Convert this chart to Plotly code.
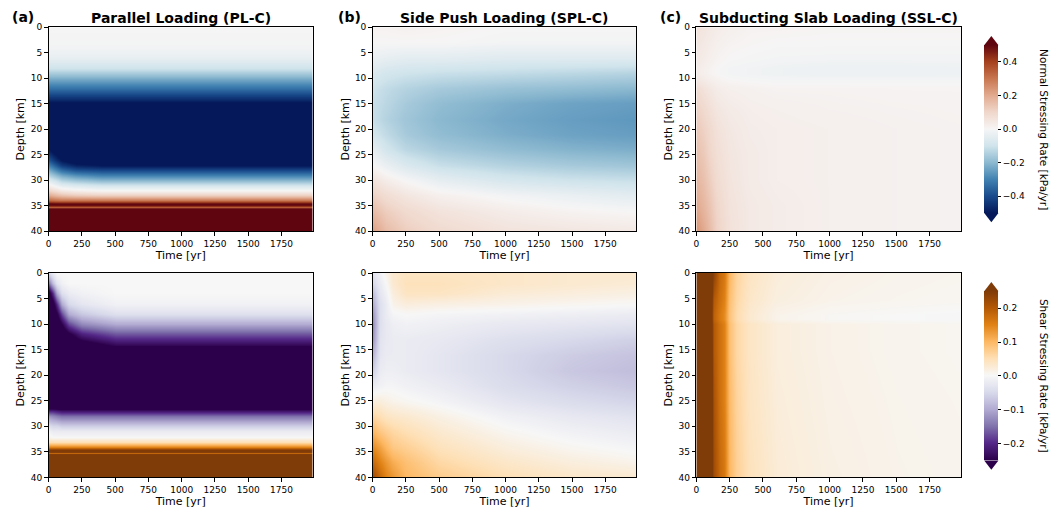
import plotly.graph_objects as go

W, H = 1054, 517

# ---------------- data ----------------
# Panel (a) normal, Parallel Loading
t_pl_n = [0, 50, 100, 200, 400, 1000, 1985]
d_pl_n = [0, 4, 6, 8, 10, 12, 14, 15.5, 24, 26, 27, 28, 29, 30, 31, 32, 33, 34, 34.8, 35.2, 35.5, 40]
z_pl_n = [
    [0.0, 0.0, 0.0, 0.0, 0.0, 0.0, 0.0],
    [-0.01, -0.01, -0.01, -0.01, -0.01, -0.01, -0.01],
    [-0.04, -0.04, -0.04, -0.04, -0.04, -0.04, -0.04],
    [-0.1, -0.1, -0.1, -0.1, -0.1, -0.1, -0.1],
    [-0.22, -0.22, -0.22, -0.22, -0.22, -0.22, -0.22],
    [-0.33, -0.33, -0.33, -0.33, -0.33, -0.33, -0.33],
    [-0.45, -0.45, -0.45, -0.45, -0.45, -0.45, -0.45],
    [-0.55, -0.55, -0.55, -0.55, -0.55, -0.55, -0.55],
    [-0.5, -0.55, -0.6, -0.6, -0.6, -0.6, -0.6],
    [-0.38, -0.45, -0.5, -0.55, -0.55, -0.55, -0.55],
    [-0.3, -0.37, -0.43, -0.48, -0.5, -0.5, -0.5],
    [-0.22, -0.28, -0.33, -0.38, -0.4, -0.4, -0.4],
    [-0.14, -0.19, -0.23, -0.27, -0.3, -0.3, -0.3],
    [-0.06, -0.1, -0.14, -0.17, -0.2, -0.2, -0.2],
    [0.02, -0.02, -0.05, -0.07, -0.09, -0.09, -0.09],
    [0.1, 0.07, 0.04, 0.02, 0.0, 0.0, 0.0],
    [0.2, 0.17, 0.15, 0.13, 0.12, 0.12, 0.12],
    [0.33, 0.31, 0.3, 0.3, 0.3, 0.3, 0.3],
    [0.55, 0.55, 0.55, 0.55, 0.55, 0.55, 0.55],
    [0.33, 0.33, 0.33, 0.33, 0.33, 0.33, 0.33],
    [0.6, 0.6, 0.6, 0.6, 0.6, 0.6, 0.6],
    [0.6, 0.6, 0.6, 0.6, 0.6, 0.6, 0.6],
]

# Panel (a) shear
t_pl_s = [0, 30, 60, 100, 150, 250, 500, 1000, 1985]
d_pl_s = [0, 2, 4, 6, 8, 10, 12, 14, 15, 26, 27, 28, 30, 31, 32, 33, 34, 34.8, 35.2, 35.5, 40]
z_pl_s = [
    [-0.05, -0.02, 0.0, 0.0, 0.0, 0.0, 0.0, 0.0, 0.0],
    [-0.15, -0.08, -0.03, -0.01, 0.0, 0.0, 0.0, 0.0, 0.0],
    [-0.28, -0.2, -0.1, -0.04, -0.02, -0.01, 0.0, 0.0, 0.0],
    [-0.3, -0.28, -0.2, -0.1, -0.05, -0.03, -0.01, -0.01, -0.01],
    [-0.3, -0.3, -0.26, -0.18, -0.1, -0.07, -0.04, -0.04, -0.04],
    [-0.3, -0.3, -0.3, -0.25, -0.18, -0.13, -0.1, -0.1, -0.1],
    [-0.3, -0.3, -0.3, -0.3, -0.26, -0.21, -0.17, -0.17, -0.17],
    [-0.3, -0.3, -0.3, -0.3, -0.3, -0.28, -0.24, -0.24, -0.24],
    [-0.3, -0.3, -0.3, -0.3, -0.3, -0.3, -0.3, -0.3, -0.3],
    [-0.3, -0.3, -0.3, -0.3, -0.3, -0.3, -0.3, -0.3, -0.3],
    [-0.2, -0.2, -0.21, -0.22, -0.22, -0.22, -0.22, -0.22, -0.22],
    [-0.12, -0.13, -0.14, -0.15, -0.15, -0.15, -0.15, -0.15, -0.15],
    [-0.04, -0.05, -0.05, -0.06, -0.06, -0.06, -0.06, -0.06, -0.06],
    [-0.01, -0.02, -0.02, -0.02, -0.02, -0.02, -0.02, -0.02, -0.02],
    [0.01, 0.0, 0.0, 0.0, 0.0, 0.0, 0.0, 0.0, 0.0],
    [0.05, 0.05, 0.05, 0.05, 0.05, 0.05, 0.05, 0.05, 0.05],
    [0.15, 0.15, 0.15, 0.15, 0.15, 0.15, 0.15, 0.15, 0.15],
    [0.3, 0.3, 0.3, 0.3, 0.3, 0.3, 0.3, 0.3, 0.3],
    [0.18, 0.18, 0.18, 0.18, 0.18, 0.18, 0.18, 0.18, 0.18],
    [0.3, 0.3, 0.3, 0.3, 0.3, 0.3, 0.3, 0.3, 0.3],
    [0.3, 0.3, 0.3, 0.3, 0.3, 0.3, 0.3, 0.3, 0.3],
]

# Panel (b) normal, Side Push Loading
t_spl_n = [0, 100, 250, 500, 1000, 1500, 1985]
d_spl_n = [0, 3, 6, 9, 12, 15, 18, 21, 24, 27, 30, 33, 36, 40]
z_spl_n = [
    [0.01, 0.01, 0.015, 0.01, 0.0, 0.0, 0.0],
    [0.0, 0.0, 0.0, 0.0, -0.01, -0.01, -0.01],
    [-0.03, -0.04, -0.05, -0.05, -0.06, -0.06, -0.06],
    [-0.07, -0.09, -0.1, -0.11, -0.12, -0.13, -0.14],
    [-0.1, -0.12, -0.14, -0.16, -0.18, -0.19, -0.2],
    [-0.11, -0.13, -0.16, -0.19, -0.22, -0.24, -0.25],
    [-0.11, -0.14, -0.17, -0.2, -0.23, -0.25, -0.26],
    [-0.09, -0.12, -0.16, -0.19, -0.22, -0.24, -0.25],
    [-0.04, -0.09, -0.13, -0.16, -0.19, -0.21, -0.22],
    [0.0, -0.03, -0.07, -0.11, -0.14, -0.16, -0.17],
    [0.06, 0.03, 0.0, -0.04, -0.08, -0.1, -0.11],
    [0.11, 0.08, 0.05, 0.02, -0.01, -0.03, -0.05],
    [0.16, 0.12, 0.09, 0.06, 0.03, 0.01, 0.0],
    [0.22, 0.16, 0.12, 0.09, 0.06, 0.05, 0.04],
]

# Panel (b) shear
t_spl_s = [0, 50, 100, 150, 250, 500, 1000, 1500, 1985]
d_spl_s = [0, 2, 4, 6, 8, 10, 13, 16, 19, 22, 25, 28, 31, 34, 37, 40]
z_spl_s = [
    [-0.03, -0.01, 0.01, 0.03, 0.04, 0.04, 0.035, 0.03, 0.03],
    [-0.05, -0.02, 0.0, 0.03, 0.045, 0.045, 0.035, 0.03, 0.025],
    [-0.08, -0.03, -0.01, 0.02, 0.04, 0.04, 0.025, 0.02, 0.015],
    [-0.1, -0.04, -0.02, 0.01, 0.02, 0.015, 0.01, 0.005, 0.0],
    [-0.12, -0.04, -0.02, -0.005, 0.0, -0.005, -0.01, -0.015, -0.02],
    [-0.13, -0.04, -0.025, -0.015, -0.01, -0.015, -0.025, -0.03, -0.035],
    [-0.12, -0.035, -0.025, -0.02, -0.02, -0.025, -0.04, -0.05, -0.06],
    [-0.09, -0.03, -0.02, -0.02, -0.02, -0.03, -0.05, -0.065, -0.075],
    [-0.06, -0.02, -0.015, -0.015, -0.02, -0.03, -0.05, -0.07, -0.08],
    [-0.02, -0.01, -0.005, -0.005, -0.01, -0.02, -0.045, -0.06, -0.07],
    [0.02, 0.02, 0.015, 0.01, 0.005, -0.005, -0.03, -0.045, -0.055],
    [0.06, 0.05, 0.04, 0.035, 0.03, 0.015, -0.01, -0.025, -0.035],
    [0.1, 0.08, 0.07, 0.06, 0.05, 0.03, 0.005, -0.01, -0.02],
    [0.14, 0.12, 0.1, 0.08, 0.07, 0.045, 0.02, 0.005, -0.005],
    [0.18, 0.15, 0.13, 0.11, 0.09, 0.06, 0.035, 0.02, 0.01],
    [0.22, 0.18, 0.15, 0.13, 0.1, 0.075, 0.05, 0.035, 0.03],
]

# Panel (c) normal, Subducting Slab Loading
t_ssl_n = [0, 50, 100, 150, 250, 400, 600, 1000, 1500, 1985]
d_ssl_n = [0, 3, 6, 8, 9, 10, 12, 16, 20, 25, 30, 35, 40]
z_ssl_n = [
    [0.06, 0.05, 0.04, 0.03, 0.02, 0.01, 0.01, 0.005, 0.005, 0.005],
    [0.05, 0.04, 0.03, 0.02, 0.01, 0.005, 0.0, 0.0, 0.0, 0.0],
    [0.04, 0.03, 0.02, 0.01, 0.0, -0.005, -0.01, -0.012, -0.012, -0.012],
    [0.03, 0.02, 0.01, 0.0, -0.01, -0.015, -0.02, -0.025, -0.025, -0.022],
    [0.03, 0.02, 0.01, 0.0, -0.01, -0.015, -0.02, -0.025, -0.025, -0.022],
    [0.04, 0.03, 0.02, 0.01, 0.0, -0.005, -0.01, -0.01, -0.01, -0.01],
    [0.08, 0.06, 0.045, 0.03, 0.02, 0.015, 0.01, 0.01, 0.008, 0.008],
    [0.11, 0.09, 0.07, 0.05, 0.035, 0.025, 0.02, 0.015, 0.012, 0.01],
    [0.13, 0.11, 0.09, 0.065, 0.045, 0.03, 0.025, 0.02, 0.015, 0.012],
    [0.15, 0.13, 0.1, 0.075, 0.05, 0.035, 0.025, 0.02, 0.015, 0.012],
    [0.17, 0.15, 0.12, 0.085, 0.055, 0.035, 0.025, 0.02, 0.015, 0.012],
    [0.2, 0.17, 0.14, 0.1, 0.06, 0.04, 0.03, 0.02, 0.015, 0.012],
    [0.24, 0.2, 0.16, 0.11, 0.065, 0.04, 0.03, 0.02, 0.015, 0.012],
]

# Panel (c) shear
t_ssl_s = [0, 90, 110, 130, 170, 210, 250, 300, 400, 600, 1000, 1500, 1985]
d_ssl_s = [0, 5, 8, 9, 10, 15, 25, 40]
z_ssl_s = [
    [0.3, 0.3, 0.3, 0.24, 0.18, 0.16, 0.1, 0.065, 0.04, 0.022, 0.013, 0.009, 0.007],
    [0.3, 0.3, 0.28, 0.2, 0.17, 0.15, 0.09, 0.06, 0.035, 0.018, 0.01, 0.007, 0.005],
    [0.3, 0.3, 0.27, 0.19, 0.16, 0.14, 0.085, 0.055, 0.03, 0.01, 0.003, 0.0, -0.002],
    [0.3, 0.3, 0.27, 0.19, 0.16, 0.14, 0.085, 0.055, 0.03, 0.01, 0.003, 0.0, -0.002],
    [0.3, 0.3, 0.28, 0.2, 0.17, 0.15, 0.09, 0.06, 0.038, 0.02, 0.012, 0.008, 0.006],
    [0.3, 0.3, 0.29, 0.2, 0.17, 0.15, 0.09, 0.06, 0.038, 0.02, 0.012, 0.008, 0.006],
    [0.3, 0.3, 0.29, 0.21, 0.17, 0.15, 0.095, 0.065, 0.04, 0.022, 0.013, 0.009, 0.007],
    [0.3, 0.3, 0.3, 0.22, 0.18, 0.16, 0.1, 0.07, 0.045, 0.025, 0.015, 0.01, 0.008],
]

titles = ["Parallel Loading (PL-C)", "Side Push Loading (SPL-C)", "Subducting Slab Loading (SSL-C)"]
letters = ["(a)", "(b)", "(c)"]
x_ticks = [0, 250, 500, 750, 1000, 1250, 1500, 1750]
y_ticks = [0, 5, 10, 15, 20, 25, 30, 35, 40]
normal_ticks = [-0.4, -0.2, 0.0, 0.2, 0.4]
shear_ticks = [-0.2, -0.1, 0.0, 0.1, 0.2]
normal_label = "Normal Stressing Rate [kPa/yr]"
shear_label = "Shear Stressing Rate [kPa/yr]"
x_label = "Time [yr]"
y_label = "Depth [km]"

# ---------------- styles ----------------
# balance-like diverging map (blue -> white -> brown-red), low to high
BAL = ["rgb(5,25,90)", "rgb(25,75,140)", "rgb(65,130,178)", "rgb(140,185,208)",
       "rgb(208,228,236)", "rgb(246,245,245)", "rgb(240,215,203)", "rgb(226,170,143)",
       "rgb(200,118,80)", "rgb(165,65,30)", "rgb(95,5,15)"]
PuOr = ["#7f3b08", "#b35806", "#e08214", "#fdb863", "#fee0b6", "#f7f7f7",
        "#d8daeb", "#b2abd2", "#8073ac", "#542788", "#2d004b"]


def scale(cols):
    n = len(cols) - 1
    return [[i / n, c] for i, c in enumerate(cols)]


cs_normal = scale(BAL)
PuOr_r = PuOr[::-1]
cs_shear = scale(PuOr_r)

FONT = "DejaVu Sans"
px = lambda v: v / W
py = lambda v: 1 - v / H

col_x = [(45.7, 310.7), (370.7, 635.3), (695.3, 960.7)]
row_y = [(22.7, 230.7), (273.3, 481.7)]

fig = go.Figure()

panels = [
    (0, 0, t_pl_n, d_pl_n, z_pl_n, "coloraxis"),
    (0, 1, t_spl_n, d_spl_n, z_spl_n, "coloraxis"),
    (0, 2, t_ssl_n, d_ssl_n, z_ssl_n, "coloraxis"),
    (1, 0, t_pl_s, d_pl_s, z_pl_s, "coloraxis2"),
    (1, 1, t_spl_s, d_spl_s, z_spl_s, "coloraxis2"),
    (1, 2, t_ssl_s, d_ssl_s, z_ssl_s, "coloraxis2"),
]

for k, (r, c, t, d, z, ca) in enumerate(panels):
    idx = k + 1
    xa = "x" if idx == 1 else f"x{idx}"
    ya = "y" if idx == 1 else f"y{idx}"
    fig.add_trace(go.Heatmap(x=t, y=d, z=z, zsmooth="best", coloraxis=ca,
                             xaxis=xa, yaxis=ya, hoverinfo="skip"))
    xname = "xaxis" if idx == 1 else f"xaxis{idx}"
    yname = "yaxis" if idx == 1 else f"yaxis{idx}"
    x0, x1 = col_x[c]
    y0, y1 = row_y[r]
    common = dict(showline=True, linecolor="black", linewidth=1, mirror=True,
                  ticks="outside", ticklen=3.5, tickwidth=0.8, tickcolor="black",
                  showgrid=False, zeroline=False,
                  tickfont=dict(family=FONT, size=9, color="black"))
    fig.layout[xname] = dict(domain=[px(x0), px(x1)], anchor=ya, range=[0, 1985],
                             tickvals=x_ticks,
                             title=dict(text=x_label, standoff=3,
                                        font=dict(family=FONT, size=11, color="black")),
                             **common)
    fig.layout[yname] = dict(domain=[py(y1), py(y0)], anchor=xa, range=[40, 0],
                             tickvals=y_ticks,
                             title=dict(text=y_label, standoff=3,
                                        font=dict(family=FONT, size=11, color="black")),
                             **common)

# colorbars
cb_x0, cb_x1 = 984.0, 998.3
cb_norm = (41.0, 212.0)
cb_shear = (292.0, 464.5)
tri = 9.5


def cbar(ybounds, ticks):
    a, b = ybounds
    return dict(x=px(cb_x0), xanchor="left", xpad=0, ypad=0,
                y=py((a + b) / 2), yanchor="middle",
                len=(b - a) / H, lenmode="fraction",
                thickness=cb_x1 - cb_x0, thicknessmode="pixels",
                outlinewidth=0, ticks="outside", ticklen=3.5, tickwidth=0.8,
                tickcolor="black",
                tickvals=ticks,
                ticktext=[("\u2212" if v < 0 else "") + f"{abs(v):.1f}" for v in ticks],
                tickfont=dict(family=FONT, size=9, color="black"))


fig.update_layout(
    coloraxis=dict(colorscale=cs_normal, cmin=-0.5, cmax=0.5,
                   colorbar=cbar(cb_norm, normal_ticks)),
    coloraxis2=dict(colorscale=cs_shear, cmin=-0.25, cmax=0.25,
                    colorbar=cbar(cb_shear, shear_ticks)),
)

shapes = []
for (a, b), ctop, cbot in [(cb_norm, BAL[-1], BAL[0]), (cb_shear, PuOr_r[-1], PuOr_r[0])]:
    xl, xr, xm = px(cb_x0), px(cb_x1), px((cb_x0 + cb_x1) / 2)
    shapes.append(dict(type="path", xref="paper", yref="paper",
                       path=f"M {xl},{py(a)} L {xr},{py(a)} L {xm},{py(a - tri)} Z",
                       fillcolor=ctop, line=dict(width=0)))
    shapes.append(dict(type="path", xref="paper", yref="paper",
                       path=f"M {xl},{py(b)} L {xr},{py(b)} L {xm},{py(b + tri)} Z",
                       fillcolor=cbot, line=dict(width=0)))

annotations = []
for c in range(3):
    x0, x1 = col_x[c]
    annotations.append(dict(text=f"<b>{titles[c]}</b>", x=px((x0 + x1) / 2), y=py(13),
                            xref="paper", yref="paper", showarrow=False,
                            xanchor="center", yanchor="middle",
                            font=dict(family=FONT, size=14, color="black")))
letter_x = [7, 334, 657]
for c in range(3):
    annotations.append(dict(text=f"<b>{letters[c]}</b>", x=px(letter_x[c]), y=py(12),
                            xref="paper", yref="paper", showarrow=False,
                            xanchor="left", yanchor="middle",
                            font=dict(family=FONT, size=14, color="black")))
for (a, b), lab in [(cb_norm, normal_label), (cb_shear, shear_label)]:
    annotations.append(dict(text=lab, x=px(1044), y=py((a + b) / 2),
                            xref="paper", yref="paper", showarrow=False,
                            textangle=90, xanchor="center", yanchor="middle",
                            font=dict(family=FONT, size=10.5, color="black")))

fig.update_layout(width=W, height=H, margin=dict(l=0, r=0, t=0, b=0),
                  paper_bgcolor="white", plot_bgcolor="white",
                  shapes=shapes, annotations=annotations,
                  font=dict(family=FONT, color="black"))

fig.write_html("out.html")
